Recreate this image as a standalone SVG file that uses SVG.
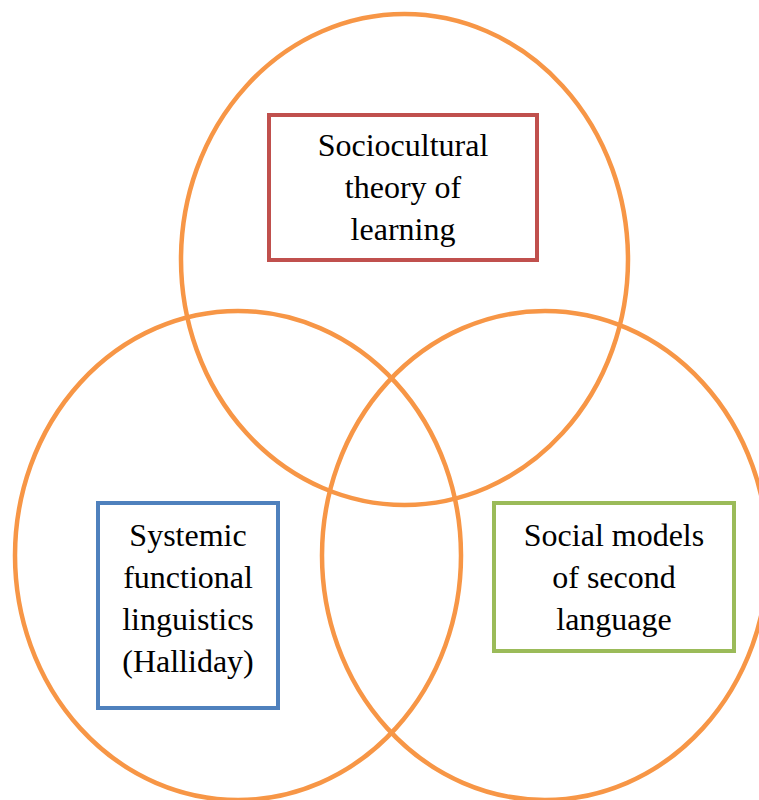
<svg xmlns="http://www.w3.org/2000/svg" width="759" height="800" viewBox="0 0 759 800">
<style>
.c{fill:none;stroke:#F79646;stroke-width:4.5}
.b{fill:#fff;stroke-width:4}
.t{font-family:'Liberation Serif',serif;font-size:32px;fill:#000;text-anchor:middle}
</style>
<rect width="759" height="800" fill="#fff"/>
<g id="circles">
<ellipse id="top-circle" class="c" cx="404.5" cy="259.5" rx="223.5" ry="245.5"/>
<ellipse id="left-circle" class="c" cx="238" cy="555.5" rx="223" ry="244.5"/>
<ellipse id="right-circle" class="c" cx="545" cy="555.5" rx="223" ry="244.5"/>
</g>
<g id="sociocultural">
<rect class="b" x="269" y="115" width="268" height="145" stroke="#C0504D"/>
<text class="t" x="403" y="156">Sociocultural</text>
<text class="t" x="403" y="198">theory of</text>
<text class="t" x="403" y="240">learning</text>
</g>
<g id="systemic">
<rect class="b" x="98" y="503" width="180" height="205" stroke="#4F81BD"/>
<text class="t" x="188" y="546">Systemic</text>
<text class="t" x="188" y="588">functional</text>
<text class="t" x="188" y="630">linguistics</text>
<text class="t" x="188" y="672">(Halliday)</text>
</g>
<g id="social">
<rect class="b" x="494" y="503" width="240" height="148" stroke="#9BBB59"/>
<text class="t" x="614" y="546">Social models</text>
<text class="t" x="614" y="588">of second</text>
<text class="t" x="614" y="630">language</text>
</g>
</svg>
